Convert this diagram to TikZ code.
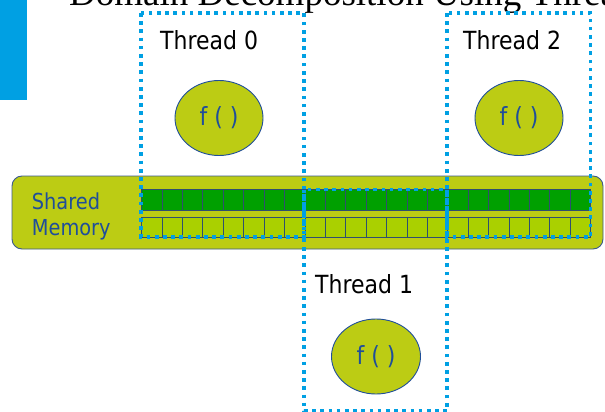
\documentclass[tikz,border=0pt]{standalone}
\usepackage{fontspec}
\setmainfont{Liberation Serif}
\newfontfamily\tah[FakeStretch=0.88]{DejaVu Sans}
\usetikzlibrary{shapes.geometric}
\definecolor{thrblue}{RGB}{0,160,227}
\definecolor{barblue}{RGB}{0,160,227}
\definecolor{memfill}{RGB}{188,204,20}
\definecolor{memborder}{RGB}{60,90,140}
\definecolor{txtblue}{RGB}{31,78,154}
\definecolor{darkcell}{RGB}{0,160,0}
\definecolor{lightcell}{RGB}{170,208,0}
\definecolor{cellline}{RGB}{47,79,111}
\tikzset{
  thrbox/.style={draw=thrblue, line width=3.7pt, dash pattern=on 3.7pt off 4.5pt},
  func/.style={ellipse, draw=txtblue, line width=0.9pt, fill=memfill, minimum width=88pt, minimum height=75pt, inner sep=0pt, text=txtblue, font=\tah\fontsize{25}{25}\selectfont},
  thrlabel/.style={anchor=base west, inner sep=0pt, font=\tah\fontsize{25}{25}\selectfont},
  memlabel/.style={anchor=base west, inner sep=0pt, text=txtblue, font=\tah\fontsize{22}{22}\selectfont},
  darkc/.style={draw=cellline, line width=0.9pt, fill=darkcell},
  lightc/.style={draw=cellline, line width=0.9pt, fill=lightcell}
}
\begin{document}
\begin{tikzpicture}[x=1pt,y=-1pt]
\path[use as bounding box] (0,0) rectangle (605,412);
\clip (0,0) rectangle (605,412);
% title
\node[anchor=base west, inner sep=0pt, font=\fontsize{37}{37}\selectfont] (title) at (69,6) {Domain Decomposition Using Threads};
% left bar
\fill[barblue] (0,0) rectangle (27,100);
% shared memory
\draw[memborder, line width=0.9pt, fill=memfill, rounded corners=10pt] (12,176) rectangle (603,249);
\node[memlabel] (shared) at (31.7,209.3) {Shared};
\node[memlabel] (memory) at (31.7,235) {Memory};
% cells
\foreach \i in {0,...,21} {
  \draw[darkc] (141.7+20.41*\i,189.5) rectangle ++(20.41,20.5);
  \draw[lightc] (141.7+20.41*\i,217) rectangle ++(20.41,20.3);
}
% thread boxes
\draw[thrbox] (141,13) rectangle (304,237);
\draw[thrbox] (447,13) rectangle (590.5,237);
\draw[thrbox] (304,189.5) rectangle (447,411);
% labels
\node[thrlabel] (t0) at (160,50) {Thread 0};
\node[thrlabel] (t2) at (463,50) {Thread 2};
\node[thrlabel] (t1) at (315,293) {Thread 1};
% functions
\node[func] (f0) at (219,118) {f ( )};
\node[func] (f2) at (519,118) {f ( )};
\node[func, minimum width=89pt] (f1) at (376,356.5) {f ( )};
\end{tikzpicture}
\end{document}
